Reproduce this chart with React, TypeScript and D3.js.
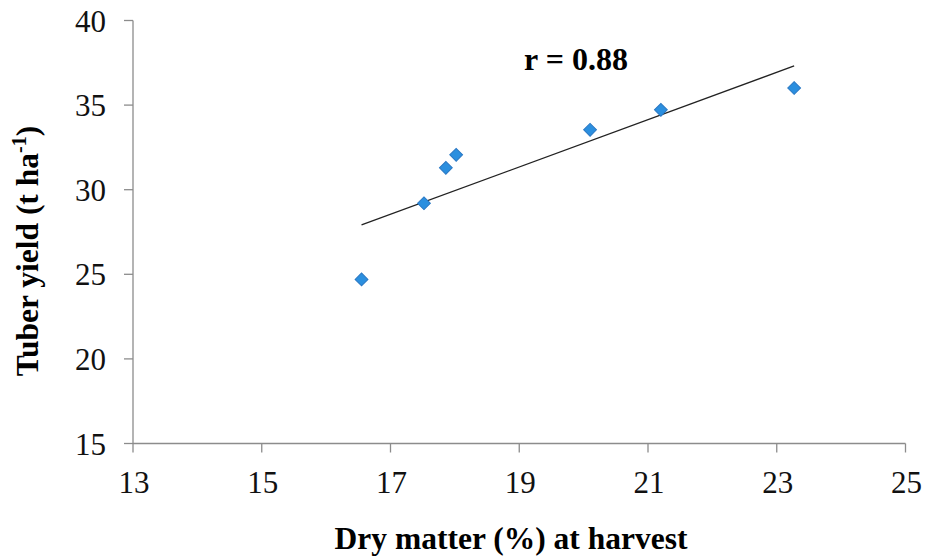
import React from "react";
import * as d3 from "d3";

// Dry matter at harvest (%) and tuber yield (t/ha) per treatment
const dryMatter = [16.55, 17.52, 17.86, 18.02, 20.1, 21.2, 23.27];
const tuberYield = [24.7, 29.2, 31.29, 32.06, 33.54, 34.72, 36.01];
const xTicks = [13, 15, 17, 19, 21, 23, 25];
const yTicks = [15, 20, 25, 30, 35, 40];

const W = 927;
const H = 560;
const FONT = "'Liberation Serif', 'Times New Roman', serif";

function regression(xs: number[], ys: number[]) {
  const mx = d3.mean(xs)!;
  const my = d3.mean(ys)!;
  let sxy = 0, sxx = 0, syy = 0;
  xs.forEach((x, i) => {
    sxy += (x - mx) * (ys[i] - my);
    sxx += (x - mx) ** 2;
    syy += (ys[i] - my) ** 2;
  });
  const slope = sxy / sxx;
  return { slope, intercept: my - slope * mx, r: sxy / Math.sqrt(sxx * syy) };
}

export default function App() {
  const x = d3.scaleLinear().domain([13, 25]).range([133, 905.5]);
  const y = d3.scaleLinear().domain([15, 40]).range([443.5, 20.5]);
  const fit = regression(dryMatter, tuberYield);
  const [x0, x1] = d3.extent(dryMatter) as [number, number];
  const line = d3.line<number>()
    .x((d) => x(d))
    .y((d) => y(fit.intercept + fit.slope * d));
  const axisColor = "#8c8c8c";
  const diamond = d3.symbol().type(d3.symbolSquare).size(82)();

  return (
    <svg width={W} height={H} style={{ position: "absolute", left: 0, top: 0, background: "#fff" }}>
      {/* axes */}
      <line x1={x(13)} x2={x(13)} y1={y(40)} y2={y(15)} stroke={axisColor} strokeWidth={1.3} />
      <line x1={x(13)} x2={x(25)} y1={y(15)} y2={y(15)} stroke={axisColor} strokeWidth={1.3} />
      {yTicks.map((t) => (
        <g key={"y" + t}>
          <line x1={x(13) - 9} x2={x(13)} y1={y(t)} y2={y(t)} stroke={axisColor} strokeWidth={1.3} />
          <text x={106} y={y(t)} dy="0.36em" textAnchor="end" fontFamily={FONT} fontSize={31} fill="#111">
            {t}
          </text>
        </g>
      ))}
      {xTicks.map((t) => (
        <g key={"x" + t}>
          <line x1={x(t)} x2={x(t)} y1={y(15)} y2={y(15) + 9} stroke={axisColor} strokeWidth={1.3} />
          <text x={x(t) + 1} y={493} textAnchor="middle" fontFamily={FONT} fontSize={31} fill="#111">
            {t}
          </text>
        </g>
      ))}

      {/* trend line */}
      <path d={line([x0, x1]) || ""} fill="none" stroke="#222" strokeWidth={1.3} />

      {/* points */}
      {dryMatter.map((d, i) => (
        <path
          key={i}
          d={diamond || ""}
          transform={`translate(${x(d)},${y(tuberYield[i])}) rotate(45)`}
          fill="#2b8fdf"
          stroke="#2a78c4"
          strokeWidth={1}
        />
      ))}

      {/* correlation label */}
      <text x={576} y={70} textAnchor="middle" fontFamily={FONT} fontWeight="bold" fontSize={32} fill="#000">
        r = {d3.format(".2f")(fit.r)}
      </text>

      {/* axis titles */}
      <text x={511} y={549} textAnchor="middle" fontFamily={FONT} fontWeight="bold" fontSize={31.5} fill="#000">
        Dry matter (%) at harvest
      </text>
      <text
        transform="translate(38,251) rotate(-90)"
        textAnchor="middle"
        fontFamily={FONT}
        fontWeight="bold"
        fontSize={31.5}
        fill="#000"
      >
        Tuber yield (t ha
        <tspan dy="-12" fontSize={20}>-1</tspan>
        <tspan dy="12">)</tspan>
      </text>
    </svg>
  );
}
